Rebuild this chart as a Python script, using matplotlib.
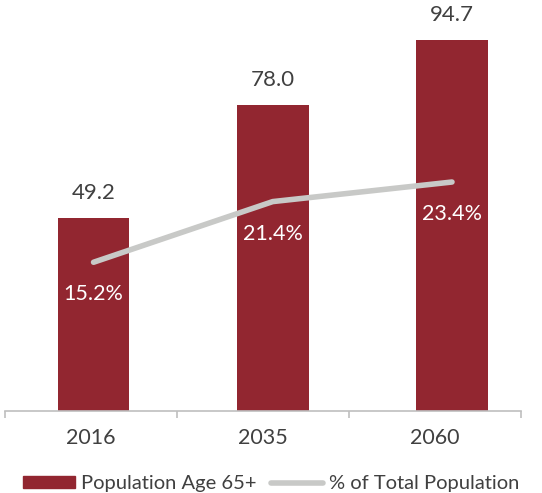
import numpy as np
import matplotlib.pyplot as plt
from matplotlib.patches import Patch
from matplotlib.lines import Line2D

# data
years = ['2016', '2035', '2060']
pop65 = [49.2, 78.0, 94.7]          # millions
pct_total = [15.2, 21.4, 23.4]      # % of total population

bar_red = '#922630'
line_grey = '#C8C9C7'
text_col = '#404040'

plt.rcParams['font.family'] = ['Lato', 'DejaVu Sans']

fig = plt.figure(figsize=(5.42, 4.93), dpi=100)
ax = fig.add_axes([5 / 542, 82 / 493, 516 / 542, 411 / 493])

x = np.arange(len(years))
ax.bar(x, pop65, width=0.40, color=bar_red, zorder=2)
ax.set_xlim(-0.494, 2.385)
ax.set_ylim(0, 104.9)

for xi, v in zip(x, pop65):
    ax.annotate(f'{v:.1f}', (xi, v), xytext=(0, 18), textcoords='offset points',
                ha='center', va='center', fontsize=16, color=text_col)

# category slots (ticks between categories, labels in the middle)
edges = np.linspace(*ax.get_xlim(), len(years) + 1)
ax.set_xticks(edges, minor=True)
ax.set_xticks((edges[:-1] + edges[1:]) / 2)
ax.set_xticklabels(years, fontsize=15.5, color=text_col)
ax.tick_params(axis='x', which='major', length=0, pad=12)
ax.tick_params(axis='x', which='minor', length=5, color='#BFBFBF', width=1.2)
ax.set_yticks([])
for s in ['top', 'left', 'right']:
    ax.spines[s].set_visible(False)
ax.spines['bottom'].set_color('#BFBFBF')
ax.spines['bottom'].set_linewidth(1.2)

ax2 = ax.twinx()
ax2.plot(x, pct_total, color=line_grey, lw=4, solid_capstyle='round', zorder=3)
ax2.set_ylim(0, 42)
ax2.set_yticks([])
for s in ['top', 'left', 'right', 'bottom']:
    ax2.spines[s].set_visible(False)
for xi, p in zip(x, pct_total):
    ax2.annotate(f'{p:.1f}%', (xi, p), xytext=(0, -23), textcoords='offset points',
                 ha='center', va='center', fontsize=15.5, color='white')

handles = [Patch(color=bar_red, label='Population Age 65+'),
           Line2D([], [], color=line_grey, lw=4, solid_capstyle='round',
                  label='% of Total Population')]
fig.legend(handles=handles, loc='lower center', bbox_to_anchor=(0.5, -0.035), ncol=2,
           frameon=False, fontsize=14.5, handlelength=2.6, handleheight=0.55,
           columnspacing=0.7, handletextpad=0.3, labelcolor=text_col)

fig.savefig('out.png', dpi=100)
